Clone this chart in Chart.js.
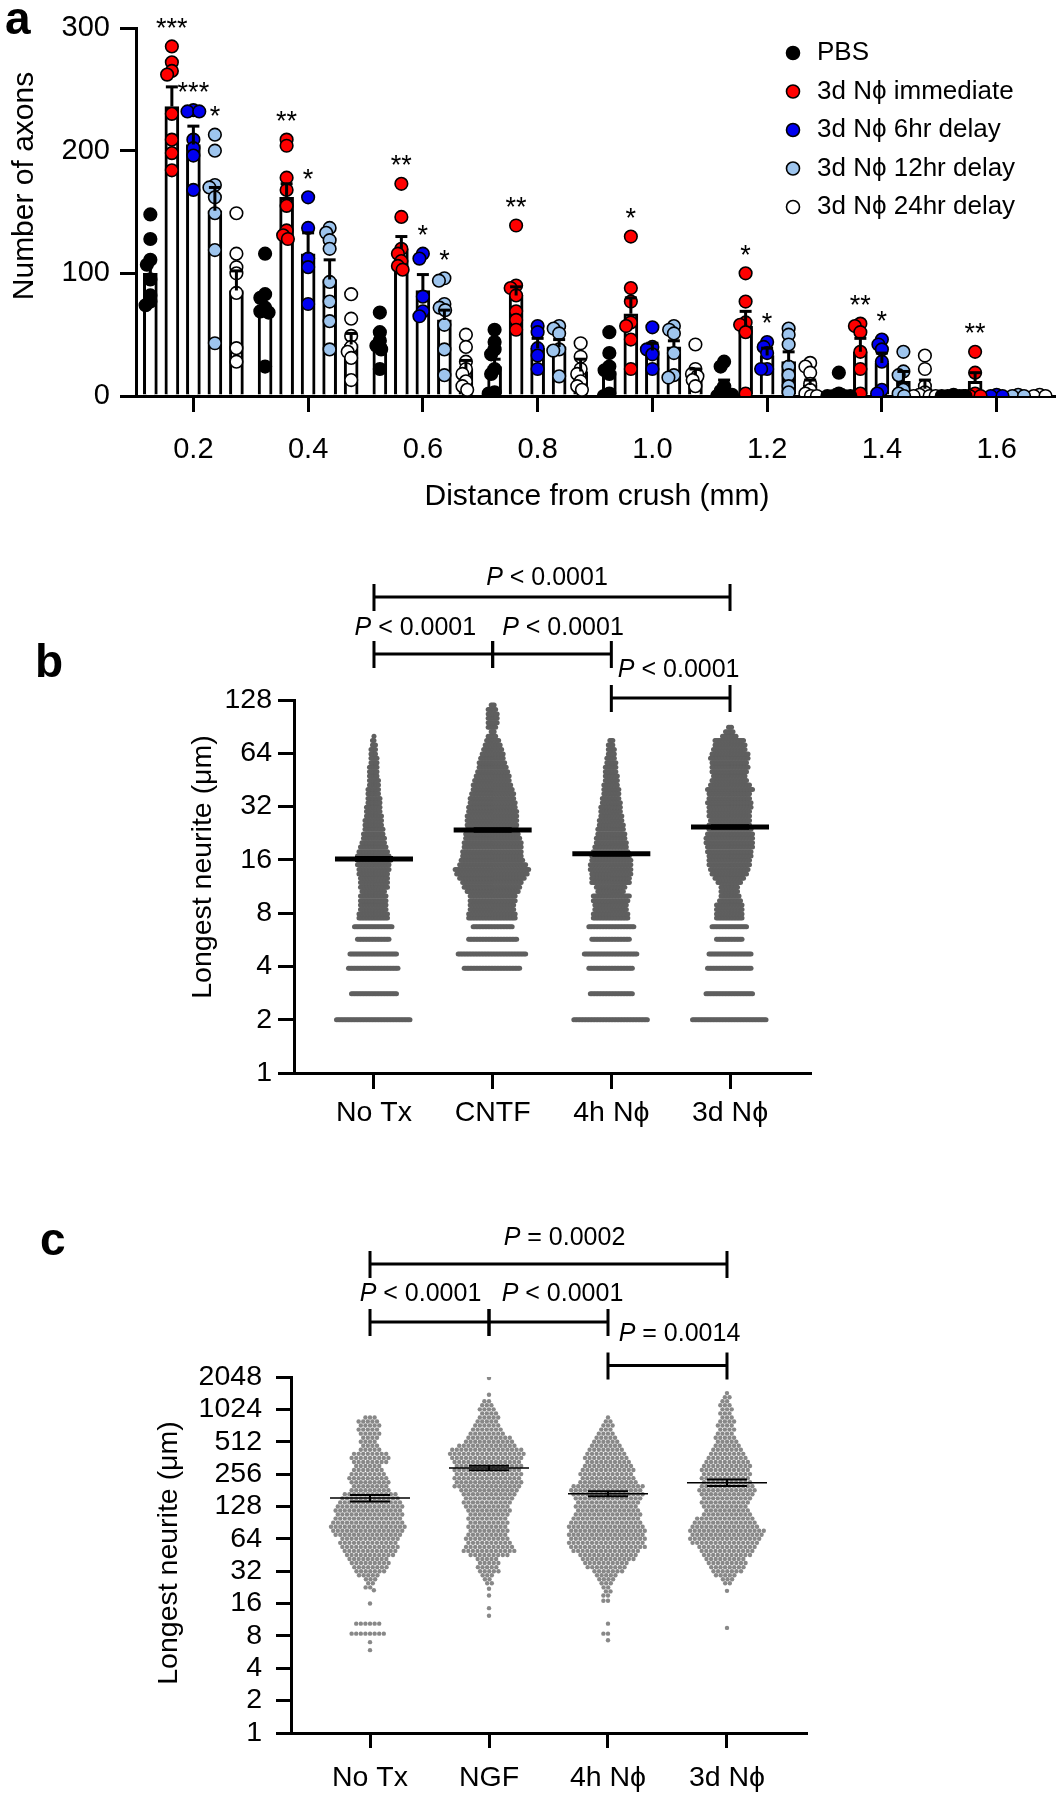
<!DOCTYPE html>
<html><head><meta charset="utf-8">
<script src="https://cdn.jsdelivr.net/npm/chart.js@4.4.1/dist/chart.umd.min.js"></script>
<style>
html,body{margin:0;padding:0;background:#fff;}
body{width:1063px;height:1800px;position:relative;overflow:hidden;}
canvas{position:absolute;left:0;}
</style></head><body>
<canvas id="ca" width="1063" height="530" style="top:0px"></canvas>
<canvas id="cb" width="1063" height="620" style="top:540px"></canvas>
<canvas id="cc" width="1063" height="620" style="top:1180px"></canvas>
<script>
// ================= DATA =================
// ---- panel a
const aDistances = [0.2, 0.4, 0.6, 0.8, 1.0, 1.2, 1.4, 1.6];
const aXTicks = [0.2, 0.4, 0.6, 0.8, 1.0, 1.2, 1.4, 1.6];
const aYTicks = [0, 100, 200, 300];
const aSeriesNames = ['PBS', '3d Nϕ immediate', '3d Nϕ 6hr delay', '3d Nϕ 12hr delay', '3d Nϕ 24hr delay'];
const meanPBS = [100, 72, 42, 24, 20, 9, 3, 0.5];
const meanImm = [236, 162, 120, 82, 67, 57, 36, 12];
const mean6h  = [205, 116, 86, 39, 37, 33, 27, 0.5];
const mean12h = [151, 95, 62, 40, 40, 28, 12, 1];
const mean24h = [86, 42, 22, 20, 17, 9, 6, 1];
const semPBS = [9, 10, 5, 6, 6, 4, 2, 0];
const semImm = [16, 11, 10, 7, 13, 12, 11, 7];
const sem6h  = [15, 17, 13, 8, 6, 6, 8, 0];
const sem12h = [19, 16, 8, 6, 5, 8, 8, 0];
const sem24h = [16, 9, 7, 10, 5, 4, 7, 0];
const ptsPBS = [[148,128,111,107,95,82,77,74],[116,83,80,72,69,68,24],[68,52,45,41,38,22],[54,44,38,34,22,18,3,2],[52,35,24,21,18,2,0],[28,24,8,4,2,1,0],[19,2,0,0,0,0],[1,0,0,0,0]];
const ptsImm = [[285,272,265,262,230,209,198,184],[209,204,178,168,155,135,131,128],[173,146,120,116,110,106,103],[139,90,88,82,69,62,54],[130,88,77,60,57,46,22],[100,77,60,58,52,2],[59,57,52,36,22,2],[36,19,2,0,0,0]];
const pts6h  = [[233,232,232,209,202,196,168],[162,137,112,105,75],[116,112,81,69,65],[57,52,39,33,22],[56,40,38,34,22],[44,40,35,22,22],[46,42,38,28,5,2],[1,0,0]];
const pts12h = [[213,200,172,170,162,149,119,43],[137,133,127,120,93,77,61,38],[96,94,75,72,70,58,38,17],[57,55,51,38,37,16],[57,54,51,35,17,15],[55,50,42,24,17,8,3],[36,20,17,5,2,0],[1,0,0]];
const pts24h = [[149,116,105,100,84,39,28],[83,63,49,40,36,31,13],[50,40,28,22,18,12,8,5],[43,32,22,18,12,8,5],[42,22,18,16,13,8],[27,24,19,10,5,2,0,0],[33,22,8,3,1,0,0,0],[1,0,0]];
const sigPBS = ['','','','','','','',''];
const sigImm = ['***','**','**','**','*','*','**','**'];
const sig6h  = ['***','*','*','','','*','*',''];
const sig12h = ['*','','*','','','','',''];
const sig24h = ['','','','','','','',''];

// ---- panel b
const bCategories = ['No Tx', 'CNTF', '4h Nϕ', '3d Nϕ'];
const bYTicks = [1, 2, 4, 8, 16, 32, 64, 128];
const bLevels = [2,2.8,3.9,4.7,5.7,6.7,7.5,7.9,8.4,8.9,9.4,10,10.6,11.2,11.9,12.6,13.3,14.1,15,15.9,16.8,17.8,18.9,20,21.2,22.4,23.8,25.2,26.7,28.3,30,31.7,33.6,35.6,37.8,40,42.4,44.9,47.6,50.4,53.4,56.6,60,63.5,67.3,71.3,75.5,80,84.8,89.8,95.1,100.8,106.8,113.1,119.8];
const bCountNoTx = [50,31,34,32,22,26,20,20,18,18,18,18,16,19,19,19,20,21,22,23,22,20,18,16,15,14,13,12,12,11,10,10,9,9,8,8,7,7,6,6,6,5,5,4,4,3,2,1,0,0,0,0,0,0,0];
const bCountCNTF = [0,0,38,46,33,27,32,32,30,30,31,31,35,38,40,44,48,50,45,42,40,40,39,39,37,36,34,34,34,34,33,32,31,30,29,27,26,24,23,21,19,18,16,15,13,11,9,6,3,6,7,7,7,6,3];
const bCount4h = [50,29,30,36,26,31,24,24,22,22,24,25,18,20,26,26,27,28,28,27,26,24,22,21,20,19,18,17,16,15,14,14,13,12,11,11,10,9,9,8,8,7,6,5,5,4,3,0,0,0,0,0,0,0,0];
const bCount3d = [50,32,30,29,18,24,18,18,18,18,15,13,12,12,16,20,24,26,28,28,29,30,31,32,32,31,29,28,27,28,28,29,30,28,28,31,27,24,22,24,25,24,26,25,22,21,20,10,6,3,0,0,0,0,0];
const bMeans = [16.2, 23.6, 17.3, 24.5];
const bSems = [0.3, 0.4, 0.3, 0.4];
const bCompareFrom = [0, 0, 1, 2];
const bCompareTo = [3, 1, 2, 3];
const bPTexts = [' < 0.0001', ' < 0.0001', ' < 0.0001', ' < 0.0001'];

const cCategories = ['No Tx', 'NGF', '4h Nϕ', '3d Nϕ'];
const cYTicks = [1, 2, 4, 8, 16, 32, 64, 128, 256, 512, 1024, 2048];
const cNoTx = [[5.9,1],[7.0,1],[8.4,8],[10.4,6],[16,1],[21.3,1],[22.6,2],[24.7,2],[26.9,3],[29.3,5],[32,7],[34.9,8],[38.1,9],[41.5,9],[45.3,11],[49.4,12],[53.8,13],[58.7,13],[64,13],[69.8,15],[76.1,16],[83,17],[90.5,16],[98.7,15],[107.6,15],[117.4,15],[128,15],[139.6,14],[152.2,13],[166,12],[181,9],[197.4,8],[215.3,9],[234.8,9],[256,8],[279.2,7],[304.4,6],[332,8],[362,9],[394.8,8],[430.5,5],[469.5,4],[512,4],[558.4,4],[608.9,5],[664,5],[724.1,5],[789.6,5],[861.1,3]];
const cNGF = [[12.3,1],[14.5,1],[19,1],[22,1],[24.7,2],[26.9,2],[29.3,3],[32,5],[34.9,5],[38.1,5],[41.5,5],[45.3,9],[49.4,12],[53.8,11],[58.7,10],[64,10],[69.8,9],[76.1,9],[83,9],[90.5,9],[98.7,9],[107.6,9],[117.4,10],[128,10],[139.6,11],[152.2,11],[166,12],[181,13],[197.4,15],[215.3,15],[234.8,15],[256,15],[279.2,15],[304.4,15],[332,15],[362,16],[394.8,17],[430.5,16],[469.5,13],[512,11],[558.4,10],[608.9,8],[664,7],[724.1,6],[789.6,5],[861.1,5],[939.1,4],[1024,4],[1117,3],[1218,2],[1400,1],[2000,1]];
const c4h = [[7.3,1],[8.4,2],[10.4,1],[17,2],[19,2],[20.75,2],[22.6,2],[24.7,3],[26.9,4],[29.3,5],[32,7],[34.9,9],[38.1,10],[41.5,12],[45.3,13],[49.4,15],[53.8,17],[58.7,17],[64,17],[69.8,17],[76.1,17],[83,17],[90.5,16],[98.7,15],[107.6,15],[117.4,14],[128,14],[139.6,14],[152.2,15],[166,16],[181,16],[197.4,16],[215.3,13],[234.8,12],[256,12],[279.2,12],[304.4,11],[332,10],[362,10],[394.8,9],[430.5,8],[469.5,7],[512,6],[558.4,5],[608.9,4],[664,3],[724.1,3],[789.6,2],[861.1,1]];
const c3d = [[9.5,1],[21,1],[24.7,2],[26.9,3],[29.3,5],[32,7],[34.9,8],[38.1,9],[41.5,9],[45.3,11],[49.4,12],[53.8,13],[58.7,15],[64,16],[69.8,16],[76.1,17],[83,15],[90.5,14],[98.7,13],[107.6,11],[117.4,10],[128,10],[139.6,11],[152.2,11],[166,12],[181,13],[197.4,12],[215.3,11],[234.8,11],[256,11],[279.2,11],[304.4,11],[332,10],[362,9],[394.8,8],[430.5,7],[469.5,6],[512,5],[558.4,5],[608.9,4],[664,4],[724.1,4],[789.6,4],[861.1,3],[939.1,3],[1024,3],[1117,3],[1218,2],[1328,2],[1450,1]];
const cMeans = [153, 292, 168, 213];
const cSems = [11, 14, 9, 15];
const cCompareFrom = [0, 0, 1, 2];
const cCompareTo = [3, 1, 2, 3];
const cPTexts = [' = 0.0002', ' < 0.0001', ' < 0.0001', ' = 0.0014'];

// ================= STYLE / LAYOUT =================
const FONT = "'Liberation Sans', Arial, Helvetica, sans-serif";
Chart.defaults.font.family = FONT;
Chart.defaults.color = '#000';
const aColors = ['#000000', '#ff0000', '#0000f0', '#9ec5ee', '#ffffff'];
const aDodge = [-0.075, -0.0375, 0, 0.0375, 0.075];
const aSeries = [
  {name: aSeriesNames[0], mean: meanPBS, sem: semPBS, pts: ptsPBS, sig: sigPBS, color: aColors[0]},
  {name: aSeriesNames[1], mean: meanImm, sem: semImm, pts: ptsImm, sig: sigImm, color: aColors[1]},
  {name: aSeriesNames[2], mean: mean6h,  sem: sem6h,  pts: pts6h,  sig: sig6h,  color: aColors[2]},
  {name: aSeriesNames[3], mean: mean12h, sem: sem12h, pts: pts12h, sig: sig12h, color: aColors[3]},
  {name: aSeriesNames[4], mean: mean24h, sem: sem24h, pts: pts24h, sig: sig24h, color: aColors[4]}
];
function gridOpt(tl) { return {display: true, drawOnChartArea: false, drawTicks: true, tickLength: tl, tickWidth: 3, tickColor: '#000', color: '#000', lineWidth: 3, offset: false}; }
const borderOpt = {display: true, color: '#000', width: 3};

// beeswarm placement (pixel space, via the chart's scales)
function swarmDataset(chart, ds, d) {
  const xs = chart.scales.x, ys = chart.scales.y;
  const groups = new Map();
  ds.data.forEach(p => { if (!groups.has(p.cx)) groups.set(p.cx, []); groups.get(p.cx).push(p); });
  for (const [cx, pts] of groups) {
    const c = xs.getPixelForValue(cx);
    const items = pts.map(p => ({p, py: ys.getPixelForValue(p.y), ox: 0}));
    items.sort((a, b) => a.py - b.py);
    const placed = [];
    let start = 0;
    for (const it of items) {
      while (start < placed.length && it.py - placed[start].py >= d) start++;
      const iv = [];
      for (let j = start; j < placed.length; j++) {
        const q = placed[j]; const dy = it.py - q.py;
        const w = Math.sqrt(Math.max(d * d - dy * dy, 0));
        iv.push([q.ox - w, q.ox + w]);
      }
      const cands = [0];
      iv.forEach(([a, b]) => { cands.push(a, b); });
      cands.sort((a, b) => (Math.abs(a) - Math.abs(b)) || (a - b));
      let ox = 0;
      for (const cand of cands) {
        let ok = true;
        for (const [a, b] of iv) { if (cand > a + 1e-6 && cand < b - 1e-6) { ok = false; break; } }
        if (ok) { ox = cand; break; }
      }
      it.ox = ox; placed.push(it);
      it.p.x = xs.getValueForPixel(c + ox);
    }
  }
}
function applySwarm(chart, d) {
  chart.data.datasets.forEach(ds => { if (ds.swarm) swarmDataset(chart, ds, d); });
  chart.update('none');
}
function drawBracket(ctx, x1, x2, y) {
  ctx.save(); ctx.lineWidth = 3; ctx.strokeStyle = '#000'; ctx.lineCap = 'butt';
  ctx.beginPath();
  ctx.moveTo(x1, y); ctx.lineTo(x2, y);
  ctx.moveTo(x1, y - 13); ctx.lineTo(x1, y + 14);
  ctx.moveTo(x2, y - 13); ctx.lineTo(x2, y + 14);
  ctx.stroke(); ctx.restore();
}
function drawP(ctx, text, cx, cy, size) {
  ctx.save(); ctx.fillStyle = '#000'; ctx.textBaseline = 'middle'; ctx.textAlign = 'left';
  ctx.font = 'italic ' + size + 'px ' + FONT; const w1 = ctx.measureText('P').width;
  ctx.font = size + 'px ' + FONT; const w2 = ctx.measureText(text).width;
  const x = cx - (w1 + w2) / 2;
  ctx.font = 'italic ' + size + 'px ' + FONT; ctx.fillText('P', x, cy);
  ctx.font = size + 'px ' + FONT; ctx.fillText(text, x + w1, cy);
  ctx.restore();
}
function drawVTitle(ctx, text, x, y, size) {
  ctx.save(); ctx.translate(x, y); ctx.rotate(-Math.PI / 2);
  ctx.font = size + 'px ' + FONT; ctx.fillStyle = '#000'; ctx.textAlign = 'center'; ctx.textBaseline = 'middle';
  ctx.fillText(text, 0, 0); ctx.restore();
}
function drawPanelLabel(ctx, t, x, y) {
  ctx.save(); ctx.font = 'bold 46px ' + FONT; ctx.fillStyle = '#000'; ctx.textAlign = 'left'; ctx.textBaseline = 'alphabetic';
  ctx.fillText(t, x, y); ctx.restore();
}

// ================= PANEL A =================
(function () {
  const datasets = [];
  aSeries.forEach((s, si) => {
    datasets.push({type: 'bar', data: aDistances.map((d, i) => ({x: d + aDodge[si], y: s.mean[i]})),
      backgroundColor: '#ffffff', borderColor: '#000', borderWidth: 3, barThickness: 14, grouped: false, order: 10});
  });
  aSeries.forEach((s, si) => {
    const pts = [];
    s.pts.forEach((arr, gi) => arr.forEach(v => pts.push({x: aDistances[gi] + aDodge[si], y: v, cx: aDistances[gi] + aDodge[si]})));
    datasets.push({type: 'scatter', data: pts, swarm: true, pointRadius: 6.3, pointBackgroundColor: s.color,
      pointBorderColor: '#000', pointBorderWidth: 1.6, order: 5});
  });
  const errLine = [], errCap = [];
  aSeries.forEach((s, si) => s.mean.forEach((m, i) => {
    if (!(s.sem[i] > 0)) return;
    const x = aDistances[i] + aDodge[si];
    errLine.push({x, y: m}, {x, y: m + s.sem[i]}, {x, y: null});
    errCap.push({x, y: m + s.sem[i]});
  }));
  datasets.push({type: 'line', data: errLine, borderColor: '#000', borderWidth: 3, pointRadius: 0, spanGaps: false, order: 2});
  datasets.push({type: 'scatter', data: errCap, pointStyle: 'line', pointRadius: 6, pointBorderWidth: 3, pointBorderColor: '#000', order: 1});

  const annotA = {id: 'annotA', afterDraw(chart) {
    const ctx = chart.ctx, xs = chart.scales.x, ys = chart.scales.y;
    drawPanelLabel(ctx, 'a', 5, 34);
    drawVTitle(ctx, 'Number of axons', 25, 186, 30);
    ctx.save();
    ctx.fillStyle = '#000'; ctx.font = '30px ' + FONT; ctx.textAlign = 'center'; ctx.textBaseline = 'middle';
    ctx.fillText('Distance from crush (mm)', 597, 497);
    ctx.font = '27px ' + FONT;
    aSeries.forEach((s, si) => s.sig.forEach((t, gi) => {
      if (!t) return;
      const m = Math.max(...s.pts[gi]);
      ctx.fillText(t, xs.getPixelForValue(aDistances[gi] + aDodge[si]), ys.getPixelForValue(m) - 17);
    }));
    aSeries.forEach((s, si) => {
      const y = 53 + si * 38.5;
      ctx.beginPath(); ctx.arc(793, y, 6.5, 0, Math.PI * 2);
      ctx.fillStyle = s.color; ctx.fill(); ctx.lineWidth = 1.6; ctx.strokeStyle = '#000'; ctx.stroke();
      ctx.fillStyle = '#000'; ctx.font = '26px ' + FONT; ctx.textAlign = 'left'; ctx.textBaseline = 'middle';
      ctx.fillText(s.name, 817, y);
    });
    ctx.restore();
  }};

  const chart = new Chart(document.getElementById('ca'), {
    type: 'bar',
    data: {datasets},
    options: {
      responsive: false, animation: false, events: [], devicePixelRatio: 1,
      layout: {padding: {left: 0, top: 28, right: 5, bottom: 0}},
      plugins: {legend: {display: false}, tooltip: {enabled: false}},
      scales: {
        x: {type: 'linear', bounds: 'data', offset: false, min: 0.1, max: 1.7,
          afterBuildTicks: s => { s.ticks = aXTicks.map(v => ({value: v})); },
          afterFit: s => { s.height = 530 - 396; },
          ticks: {callback: v => Number(v).toFixed(1), font: {size: 29}, padding: 21, color: '#000', autoSkip: false, maxRotation: 0},
          grid: gridOpt(16), border: borderOpt},
        y: {type: 'linear', bounds: 'data', min: 0, max: 300,
          afterBuildTicks: s => { s.ticks = aYTicks.map(v => ({value: v})); },
          afterFit: s => { s.width = 136; },
          ticks: {callback: v => String(v), font: {size: 29}, padding: 10, color: '#000', autoSkip: false},
          grid: gridOpt(16), border: borderOpt}
      }
    },
    plugins: [annotA]
  });
  applySwarm(chart, 6);
})();

// ================= PANELS B & C =================
function makeNeurite(cfg) {
  const pts = [];
  cfg.groups.forEach((pairs, gi) => pairs.forEach(([v, n]) => { for (let k = 0; k < n; k++) pts.push({x: gi, y: v, cx: gi}); }));
  const meanPts = cfg.means.map((m, i) => ({x: i, y: m}));
  const capPts = [], semLine = [];
  cfg.means.forEach((m, i) => {
    const s = cfg.sems[i];
    capPts.push({x: i, y: m + s}, {x: i, y: m - s});
    semLine.push({x: i, y: m - s}, {x: i, y: m + s}, {x: i, y: null});
  });
  const annot = {id: 'annot' + cfg.label, afterDraw(chart) {
    const ctx = chart.ctx, xs = chart.scales.x;
    drawPanelLabel(ctx, cfg.label, cfg.labelX, cfg.labelY);
    drawVTitle(ctx, 'Longest neurite (μm)', cfg.titleX, cfg.titleY, 28.5);
    cfg.from.forEach((f, i) => {
      const x1 = xs.getPixelForValue(f), x2 = xs.getPixelForValue(cfg.to[i]);
      const L = cfg.brackets[i];
      drawBracket(ctx, x1, x2, L.y);
      drawP(ctx, cfg.ptexts[i], (x1 + x2) / 2 + L.dx, L.ty, 25);
    });
  }};
  const chart = new Chart(document.getElementById(cfg.canvas), {
    type: 'scatter',
    data: {datasets: [
      {data: pts, swarm: true, pointRadius: cfg.r, pointBackgroundColor: cfg.color, pointBorderWidth: 0, order: 5},
      {type: 'line', data: semLine, borderColor: '#000', borderWidth: cfg.semW, pointRadius: 0, spanGaps: false, order: 3},
      {data: capPts, pointStyle: 'line', pointRadius: cfg.capR, pointBorderWidth: cfg.semW, pointBorderColor: '#000', order: 2},
      {data: meanPts, pointStyle: 'line', pointRadius: cfg.meanR, pointBorderWidth: cfg.meanW, pointBorderColor: '#000', order: 1}
    ]},
    options: {
      responsive: false, animation: false, events: [], devicePixelRatio: 1,
      layout: {padding: {left: 0, top: cfg.top, right: cfg.right, bottom: 0}},
      plugins: {legend: {display: false}, tooltip: {enabled: false}},
      scales: {
        x: {type: 'linear', bounds: 'data', offset: false, min: cfg.xmin, max: cfg.xmax,
          afterBuildTicks: s => { s.ticks = cfg.cats.map((c, i) => ({value: i})); },
          afterFit: s => { s.height = cfg.xH; },
          ticks: {callback: (v, i) => cfg.cats[i], font: {size: 28.5}, padding: cfg.xPad, color: '#000', autoSkip: false, maxRotation: 0},
          grid: gridOpt(cfg.tl), border: borderOpt},
        y: {type: 'logarithmic', bounds: 'data', min: 1, max: cfg.ymax,
          afterBuildTicks: s => { s.ticks = cfg.yTicks.map(v => ({value: v})); },
          afterFit: s => { s.width = cfg.left; },
          ticks: {callback: v => String(v), font: {size: 28.5}, padding: cfg.yPad, color: '#000', autoSkip: false},
          grid: gridOpt(cfg.tl), border: borderOpt}
      }
    },
    plugins: [annot]
  });
  applySwarm(chart, cfg.d);
}

makeNeurite({
  canvas: 'cb', label: 'b', labelX: 35, labelY: 137, titleX: 203, titleY: 327,
  groups: [bCountNoTx, bCountCNTF, bCount4h, bCount3d].map(cnt => bLevels.map((v, i) => [v, cnt[i]])),
  means: bMeans, sems: bSems, cats: bCategories, yTicks: bYTicks, ymax: 128,
  from: bCompareFrom, to: bCompareTo, ptexts: bPTexts,
  brackets: [{y: 57, ty: 38, dx: -5}, {y: 114, ty: 88, dx: -18}, {y: 114, ty: 88, dx: 11}, {y: 158, ty: 130, dx: 8}],
  top: 160, right: 253, left: 294, xH: 87, xmin: -0.674, xmax: 3.674, tl: 16, xPad: 7, yPad: 6,
  r: 2.5, color: '#5f5f5f', d: 1.5, meanR: 39, meanW: 5, capR: 19, semW: 3
});

makeNeurite({
  canvas: 'cc', label: 'c', labelX: 40, labelY: 75, titleX: 169, titleY: 373,
  groups: [cNoTx, cNGF, c4h, c3d],
  means: cMeans, sems: cSems, cats: cCategories, yTicks: cYTicks, ymax: 2048,
  from: cCompareFrom, to: cCompareTo, ptexts: cPTexts,
  brackets: [{y: 84, ty: 58, dx: 16}, {y: 142, ty: 114, dx: -9}, {y: 142, ty: 114, dx: 14}, {y: 185.5, ty: 154, dx: 12}],
  top: 197, right: 257, left: 291, xH: 67, xmin: -0.664, xmax: 3.664, tl: 15, xPad: 13, yPad: 14,
  r: 2.2, color: '#888888', d: 4.6, meanR: 40, meanW: 1.5, capR: 20, semW: 2
});
</script>
</body></html>
